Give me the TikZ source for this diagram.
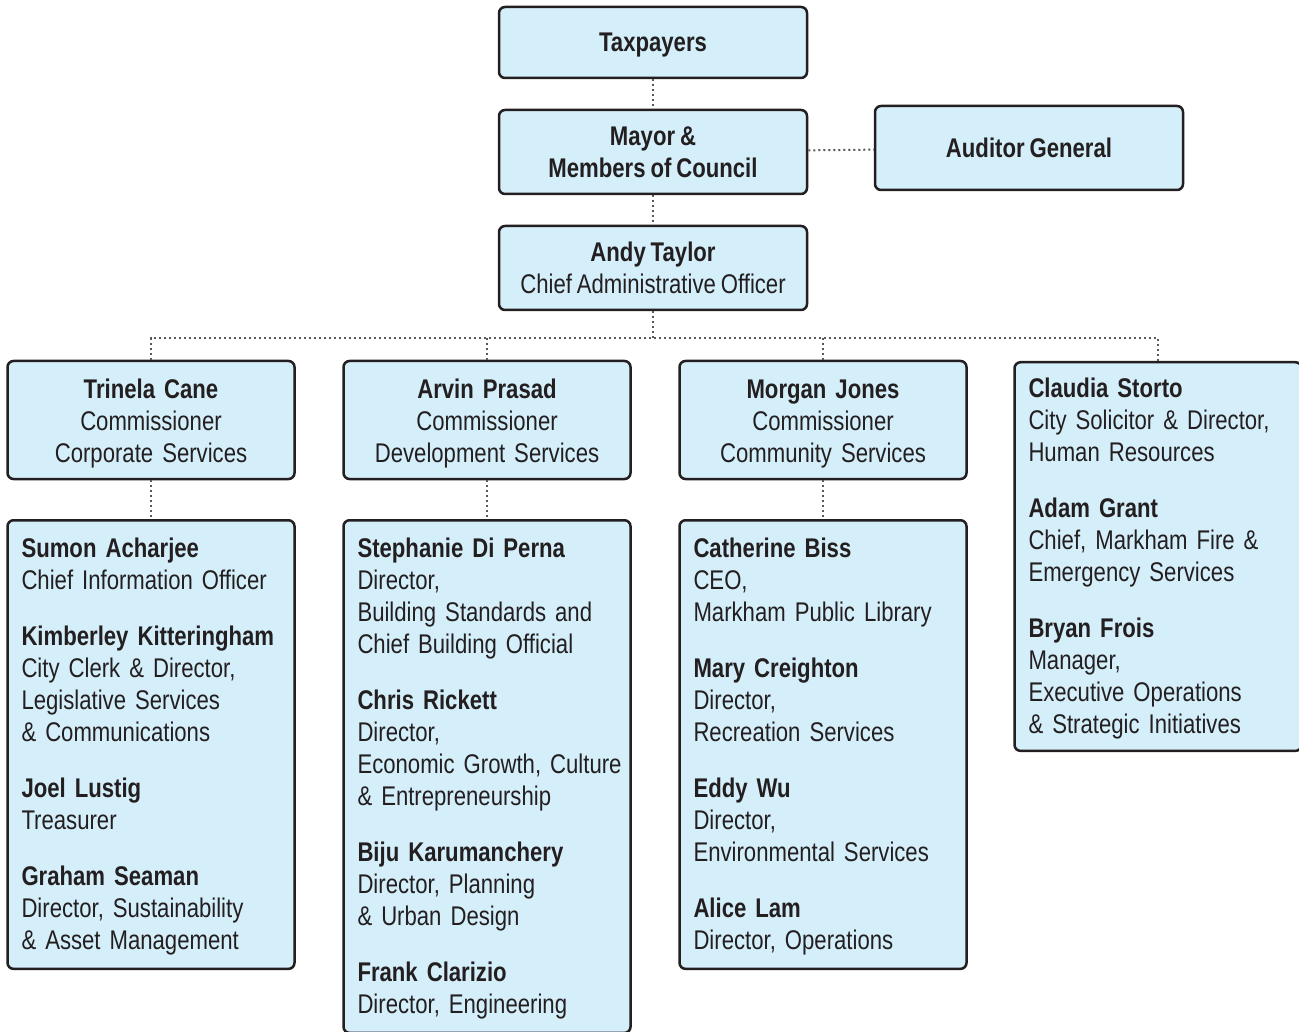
\documentclass[tikz,border=0pt]{standalone}
\usepackage{fontspec}
\setmainfont[FakeStretch=0.82, WordSpace=0.8]{Liberation Sans}
\usepackage{tikz}
\usetikzlibrary{positioning}
\definecolor{boxfill}{HTML}{D4EEFA}
\definecolor{boxline}{HTML}{231F20}
\definecolor{linkgray}{HTML}{58595B}
\newcommand{\who}[1]{\textbf{#1}}
\tikzset{
  box/.style={draw=boxline, fill=boxfill, line width=2.5pt, rounded corners=6pt,
    inner xsep=14pt, inner ysep=13pt, text=boxline, font=\fontsize{27}{32}\selectfont\frenchspacing},
  topbox/.style={box, minimum width=308pt, text depth=0pt, align=center},
  headbox/.style={box, text width=259pt, minimum height=118pt, inner ysep=10pt, align=center,
    execute at begin node={\rule{0pt}{26pt}}},
  listbox/.style={box, text width=259pt, inner ysep=14pt, align=left,
    execute at begin node={\rule{0pt}{23pt}}},
  link/.style={draw=linkgray, line width=2pt, dash pattern=on 2pt off 3pt}
}

\begin{document}
\begin{tikzpicture}[x=1pt, y=-1pt]
      \useasboundingbox (0, 0) rectangle (1299, 1032);

      \node[topbox, minimum height=71pt] (tax) at (653, 42.5) {\who{Taxpayers}};
      \node[topbox, minimum height=84pt] (mayor) at (653, 152) {\who{Mayor \&}\\\who{Members of Council}};
      \node[topbox, minimum height=84pt] (auditor) at (1029, 148) {\who{Auditor General}};
      \node[topbox, minimum height=84pt] (cao) at (653, 268) {\who{Andy Taylor}\\Chief Administrative Officer};
      \coordinate (bus) at (653, 338);

      \node[headbox] (corp) at (151, 420) {\who{Trinela Cane}\\Commissioner\\Corporate Services};
      \node[headbox] (dev) at (487, 420) {\who{Arvin Prasad}\\Commissioner\\Development Services};
      \node[headbox] (comm) at (823, 420) {\who{Morgan Jones}\\Commissioner\\Community Services};
      \node[listbox, inner ysep=12pt, anchor=north] (legal) at (1158, 361) {\who{Claudia Storto}\\City Solicitor \& Director,\\Human Resources\\[24pt]
        \who{Adam Grant}\\Chief, Markham Fire \&\\Emergency Services\\[24pt]
        \who{Bryan Frois}\\Manager,\\Executive Operations\\\& Strategic Initiatives};

      % directors under each commissioner
      \node[listbox, anchor=north] (corpstaff) at (151, 519) {\who{Sumon Acharjee}\\Chief Information Officer\\[24pt]
        \who{Kimberley Kitteringham}\\City Clerk \& Director,\\Legislative Services\\\& Communications\\[24pt]
        \who{Joel Lustig}\\Treasurer\\[24pt]
        \who{Graham Seaman}\\Director, Sustainability\\\& Asset Management};
      \node[listbox, anchor=north] (devstaff) at (487, 519) {\who{Stephanie Di Perna}\\Director,\\Building Standards and\\Chief Building Official\\[24pt]
        \who{Chris Rickett}\\Director,\\\mbox{Economic Growth, Culture}\\\& Entrepreneurship\\[24pt]
        \who{Biju Karumanchery}\\Director, Planning\\\& Urban Design\\[24pt]
        \who{Frank Clarizio}\\Director, Engineering};
      \node[listbox, anchor=north] (commstaff) at (823, 519) {\who{Catherine Biss}\\CEO,\\Markham Public Library\\[24pt]
        \who{Mary Creighton}\\Director,\\Recreation Services\\[24pt]
        \who{Eddy Wu}\\Director,\\Environmental Services\\[24pt]
        \who{Alice Lam}\\Director, Operations};

      \draw[link] (tax) to (mayor);
      \draw[link] (mayor) to (auditor);
      \draw[link] (mayor) to (cao);
      \draw[link] (cao) to (bus);
      \draw[link] (corp.north) |- (bus) -| (legal.north);
      \draw[link] (dev.north) to (dev.north |- bus);
      \draw[link] (comm.north) to (comm.north |- bus);
      \draw[link] (corp) to (corpstaff);
      \draw[link] (dev) to (devstaff);
      \draw[link] (comm) to (commstaff);
    \end{tikzpicture}
\end{document}
